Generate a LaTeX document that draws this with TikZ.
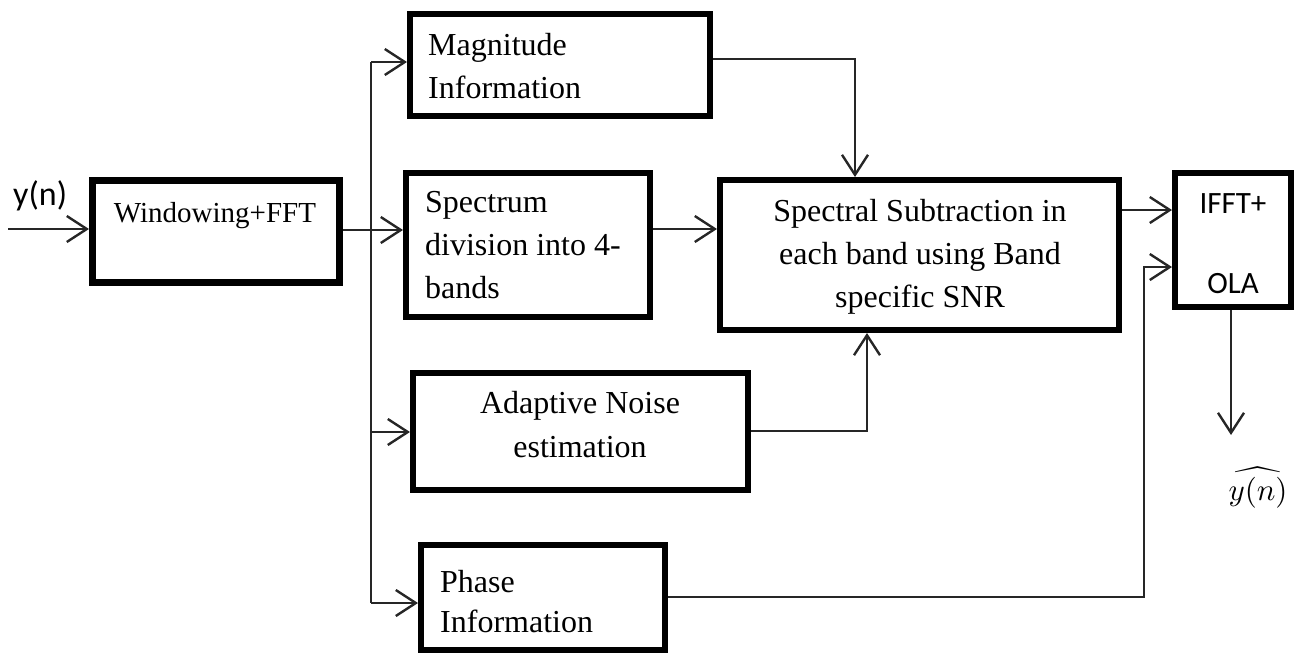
\documentclass[tikz,border=0pt]{standalone}
\usepackage{graphicx}
\usepackage{fontspec}
\setmainfont{Liberation Serif}
\newfontfamily\calib{Carlito}
\usetikzlibrary{arrows.meta}
\begin{document}
\begin{tikzpicture}[x=1pt,y=-1pt,
  box/.style={draw, line width=6pt, inner sep=0pt},
  conn/.style={line width=2.4pt, draw=black!85},
  arr/.style={conn, -{Straight Barb[length=20pt,width=26pt]}},
  lbl/.style={inner sep=0pt, font=\fontsize{32}{38}\selectfont},
  slbl/.style={inner sep=0pt, font=\calib\fontsize{31}{37}\selectfont}]
\useasboundingbox (0,0) rectangle (1298,654);

% boxes
\node[box, line width=7pt, minimum width=247pt, minimum height=102pt] (win) at (216,231.5) {};
\node[box, minimum width=300pt, minimum height=102pt] (mag) at (560,65) {};
\node[box, minimum width=244pt, minimum height=144pt] (spec) at (528,245) {};
\node[box, minimum width=399pt, minimum height=150pt] (sub) at (919.5,255) {};
\node[box, minimum width=116pt, minimum height=134pt] (ifft) at (1233,240) {};
\node[box, minimum width=335pt, minimum height=117pt] (noise) at (580.5,431.5) {};
\node[box, minimum width=244pt, minimum height=105pt] (phase) at (543,597.5) {};

% texts
\node[lbl, anchor=base, font=\fontsize{29}{35}\selectfont] (twin) at (215,222) {Windowing+FFT};
\node[lbl, anchor=base west] (tmag1) at (428,55) {Magnitude};
\node[lbl, anchor=base west] (tmag2) at (428,98) {Information};
\node[lbl, anchor=base west] (tspec1) at (425,212) {Spectrum};
\node[lbl, anchor=base west] (tspec2) at (425,255) {division into 4-};
\node[lbl, anchor=base west] (tspec3) at (425,298) {bands};
\node[lbl, anchor=base] (tsub1) at (920,221) {Spectral Subtraction in};
\node[lbl, anchor=base] (tsub2) at (920,264) {each band using Band};
\node[lbl, anchor=base] (tsub3) at (920,307) {specific SNR};
\node[lbl, anchor=base] (tnoise1) at (580,413) {Adaptive Noise};
\node[lbl, anchor=base] (tnoise2) at (580,457) {estimation};
\node[lbl, anchor=base west] (tph1) at (440,592) {Phase};
\node[lbl, anchor=base west] (tph2) at (440,632) {Information};
\node[slbl, anchor=base] (tifft1) at (1233,213) {IFFT+};
\node[slbl, anchor=base] (tifft2) at (1233,293) {OLA};
\node[slbl, anchor=base west, font=\calib\fontsize{34}{40}\selectfont] (yin) at (13,205) {y(n)};
\node[inner sep=0pt, anchor=base, font=\fontsize{10}{12}\selectfont] (yout) at (1258,500) {\scalebox{3.1}{$\widehat{y(n)}$}};

% coordinates
\coordinate (in) at (8,229);
\coordinate (bus1) at (371,62);
\coordinate (bus2) at (371,432);
\coordinate (bus3) at (371,603);
\coordinate (pc) at (1144,267);
\coordinate (out) at (1231,435);

% connectors
\draw[arr] (in) -- (in -| win.west);
\draw[arr] (win.east |- 0,230) -- (spec.west |- 0,230);
\draw[conn] (bus1) -- (bus3);
\draw[arr] (bus1) -- (bus1 -| mag.west);
\draw[arr] (bus2) -- (bus2 -| noise.west);
\draw[arr] (bus3) -- (bus3 -| phase.west);
\draw[arr] (spec.east |- 0,229) -- (sub.west |- 0,229);
\draw[arr] (mag.east |- 0,59) -| (sub.north -| 855,0);
\draw[arr] (noise.east |- 0,431) -| (sub.south -| 867,0);
\draw[arr] (sub.east |- 0,210) -- (ifft.west |- 0,210);
\draw[arr] (phase.east |- 0,597) -| (pc) -- (pc -| ifft.west);
\draw[arr] (ifft.south -| out) -- (out);
\end{tikzpicture}
\end{document}
